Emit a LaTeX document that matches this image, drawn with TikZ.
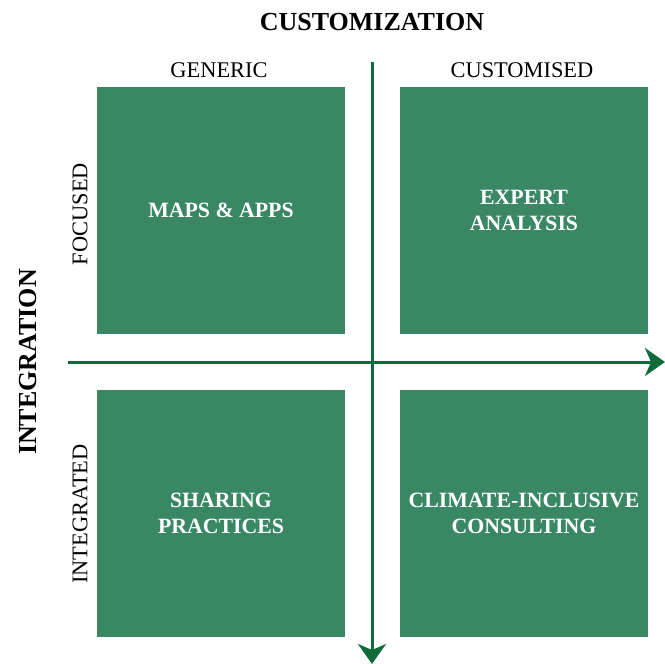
\documentclass[tikz,border=0pt]{standalone}
\usepackage{fontspec}
\setmainfont{Liberation Serif}
\usetikzlibrary{arrows.meta}
\usetikzlibrary{positioning}

\definecolor{boxgreen}{HTML}{3A8764}
\definecolor{axisgreen}{HTML}{0E6B3A}

\begin{document}
\begin{tikzpicture}[x=0.5pt,y=-0.5pt,
    quad node/.style={rectangle,fill=boxgreen,text=white,minimum width=124pt,
      minimum height=123.5pt,align=center,font=\fontsize{10.9}{12.8}\selectfont\bfseries},
    axis/.style={draw=axisgreen,line width=1.5pt,-{Stealth[length=10pt,width=14pt,inset=3pt]}},
    head label/.style={font=\fontsize{13}{15}\selectfont\bfseries},
    side label/.style={font=\fontsize{11.2}{13}\selectfont}]

   \useasboundingbox (0,0) rectangle (665,664);

   % quadrants
   \node[quad node] (maps) at (221,210.5) {MAPS \& APPS};
   \node[quad node] (expert) at (524,210.5) {EXPERT\\ANALYSIS};
   \node[quad node] (sharing) at (221,513.5) {SHARING\\PRACTICES};
   \node[quad node] (climate) at (524,513.5) {CLIMATE-INCLUSIVE\\CONSULTING};

   % axes
   \coordinate (h start) at (68,362);
   \coordinate (h end) at (665,362);
   \coordinate (v start) at (372,62);
   \coordinate (v end) at (372,664);
   \draw[axis] (h start) -- (h end);
   \draw[axis] (v start) -- (v end);

   % labels
   \node[head label] (custom) at (372,22) {CUSTOMIZATION};
   \node[side label] (generic) at (219,70) {GENERIC};
   \node[side label] (customised) at (522,70) {CUSTOMISED};
   \node[head label,rotate=90] (integ) at (28,362) {INTEGRATION};
   \node[side label,rotate=90] (focused) at (80,214) {FOCUSED};
   \node[side label,rotate=90] (integrated) at (80,514) {INTEGRATED};
  \end{tikzpicture}
\end{document}
